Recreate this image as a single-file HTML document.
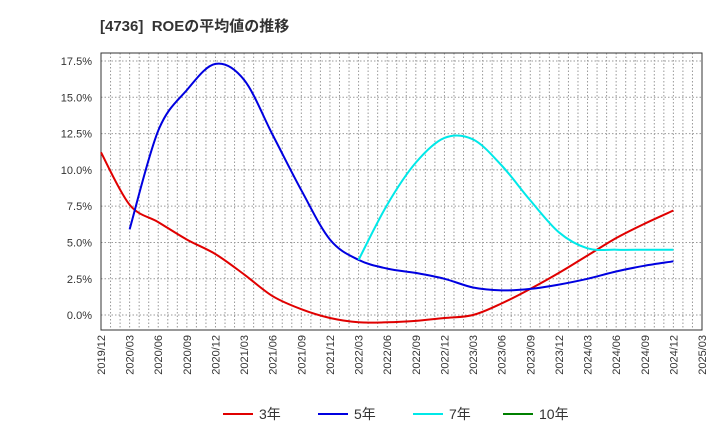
<!DOCTYPE html>
<html><head><meta charset="utf-8"><style>
body{margin:0;background:#fff;font-family:"Liberation Sans","Noto Sans CJK JP",sans-serif}
</style></head><body>
<svg width="720" height="440" xmlns="http://www.w3.org/2000/svg" font-family="Liberation Sans, Noto Sans CJK JP, sans-serif">
<text x="100" y="31" font-size="15" font-weight="bold" fill="#333">[4736]&#160; ROEの平均値の推移</text>
<g id="grid"></g><g id="axes"></g><g id="series"></g><g id="legend"></g>
</svg>
<script>
const xLabels=["2019/12","2020/03","2020/06","2020/09","2020/12","2021/03","2021/06","2021/09","2021/12","2022/03","2022/06","2022/09","2022/12","2023/03","2023/06","2023/09","2023/12","2024/03","2024/06","2024/09","2024/12","2025/03"];
const yTicks=[0,2.5,5,7.5,10,12.5,15,17.5];
const s3=[11.2,7.6,6.4,5.2,4.2,2.8,1.3,0.4,-0.2,-0.5,-0.5,-0.4,-0.2,0,0.8,1.8,2.9,4.1,5.3,6.3,7.2];
const s5=[null,5.9,12.7,15.5,17.3,16.2,12.4,8.6,5.2,3.8,3.2,2.9,2.5,1.9,1.7,1.8,2.1,2.5,3.0,3.4,3.7];
const s7=[null,null,null,null,null,null,null,null,null,3.8,7.6,10.5,12.2,12.1,10.3,7.9,5.7,4.6,4.5,4.5,4.5];
const s10=[];
const L=101,R=702,T=53,B=330,yMin=-1.03,yMax=18.05;
const X=i=>L+(R-L)*i/(xLabels.length-1);
const Y=v=>B-(v-yMin)/(yMax-yMin)*(B-T);
const NS="http://www.w3.org/2000/svg";
function mk(p,t,a){const e=document.createElementNS(NS,t);for(const k in a)e.setAttribute(k,a[k]);p.appendChild(e);return e;}
const grid=document.getElementById('grid'),axes=document.getElementById('axes'),ser=document.getElementById('series'),leg=document.getElementById('legend');
for(let m=1;m<63;m++){const x=L+(R-L)*m/63;const g=mk(grid,'line',{x1:x,x2:x,y1:T,y2:B,stroke:'#999','stroke-dasharray':'1.5,2','stroke-width':1});

}
yTicks.forEach(v=>{const g=mk(grid,'line',{x1:L,x2:R,y1:Y(v),y2:Y(v),stroke:'#999','stroke-dasharray':'1.5,2','stroke-width':1});


const t=mk(axes,'text',{x:92,y:Y(v)+4,'text-anchor':'end','font-size':11,fill:'#333'});t.textContent=v.toFixed(1)+'%';

});
const fr=mk(axes,'rect',{x:L,y:T,width:R-L,height:B-T,fill:'none',stroke:'#333','stroke-width':1});


xLabels.forEach((l,i)=>{const t=mk(axes,'text',{transform:`translate(${X(i)+4},335) rotate(-90)`,'text-anchor':'end','font-size':11,fill:'#333'});t.textContent=l;

});
function line(d,c,n){const pts=[];d.forEach((v,i)=>{if(v!=null)pts.push([X(i),Y(v)]);});if(pts.length<2)return;
let p='M'+pts[0][0].toFixed(1)+','+pts[0][1].toFixed(1);
for(let i=0;i<pts.length-1;i++){const p0=pts[i-1]||pts[i],p1=pts[i],p2=pts[i+1],p3=pts[i+2]||p2;
const c1=[p1[0]+(p2[0]-p0[0])/6,p1[1]+(p2[1]-p0[1])/6],c2=[p2[0]-(p3[0]-p1[0])/6,p2[1]-(p3[1]-p1[1])/6];
p+=`C${c1[0].toFixed(1)},${c1[1].toFixed(1)} ${c2[0].toFixed(1)},${c2[1].toFixed(1)} ${p2[0].toFixed(1)},${p2[1].toFixed(1)}`;}
const e=mk(ser,'path',{d:p,fill:'none',stroke:c,'stroke-width':2,'stroke-linejoin':'round'});

}
line(s3,'#e00000','series-3y');line(s5,'#0000e0','series-5y');line(s7,'#00e8e8','series-7y');line(s10,'#008000','series-10y');
[['3年','#e00000',223],['5年','#0000e0',318],['7年','#00e8e8',413],['10年','#008000',503]].forEach(([n,c,x])=>{
const g=mk(leg,'g',{});


mk(g,'line',{x1:x,x2:x+30,y1:414,y2:414,stroke:c,'stroke-width':2});
const t=mk(g,'text',{x:x+36,y:419,'font-size':14,fill:'#333'});t.textContent=n;});
</script>
</body></html>
